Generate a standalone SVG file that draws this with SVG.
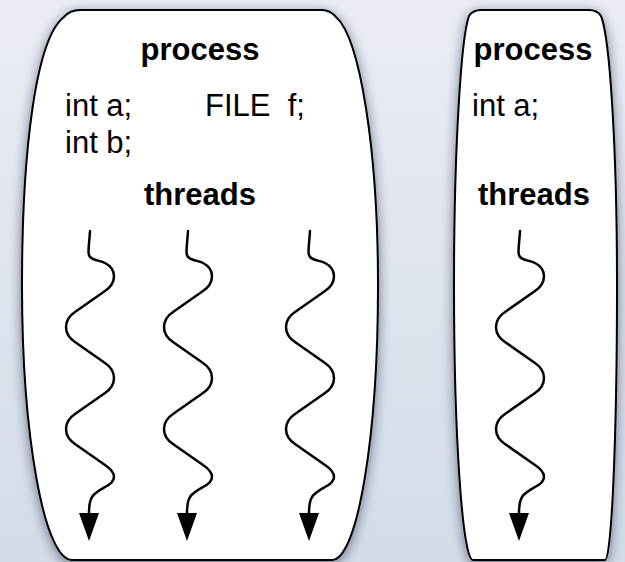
<svg xmlns="http://www.w3.org/2000/svg" xmlns:xlink="http://www.w3.org/1999/xlink" width="625" height="562" viewBox="0 0 625 562">
  <defs>
    <linearGradient id="bg" x1="0" y1="0" x2="0" y2="1">
      <stop offset="0" stop-color="#eaedf3"/>
      <stop offset="1" stop-color="#d4dce8"/>
    </linearGradient>
    <filter id="shadow" x="-20%" y="-10%" width="140%" height="120%">
      <feGaussianBlur in="SourceAlpha" stdDeviation="6"/>
      <feOffset dx="0" dy="3" result="blur"/>
      <feFlood flood-color="#1e2840" flood-opacity="0.6"/>
      <feComposite in2="blur" operator="in"/>
      <feMerge>
        <feMergeNode/>
        <feMergeNode in="SourceGraphic"/>
      </feMerge>
    </filter>
    <marker id="arrow" markerUnits="userSpaceOnUse" viewBox="0 -10 28 20" refX="0" refY="0" markerWidth="28" markerHeight="20" orient="auto">
      <path d="M0,-10 L28,0 L0,10 Z" fill="#000"/>
    </marker>
    <!-- one wavy thread line, centred on x = 0 -->
    <path id="thread" d="M0,231 C-1,249 -4,257 3,259 C8,261 11,261 15,263 C27,269 27,283 15,291 L-15,312 C-27,320 -27,334 -15,342 L15,363 C27,371 27,385 15,393 L-15,414 C-27,422 -27,436 -15,444 L15,465 C27,473 27,481 15,487 C3,494 -1,496 -1,513"/>
  </defs>
  <style>
    .proc { fill: #fff; stroke: #000; stroke-width: 2; filter: url(#shadow); }
    .bold { font-family: "Liberation Sans", Arial, Helvetica, sans-serif; font-weight: bold; font-size: 31px; fill: #000; }
    .reg { font-family: "Liberation Sans", Arial, Helvetica, sans-serif; font-size: 31px; fill: #000; white-space: pre; }
    .thr { fill: none; stroke: #000; stroke-width: 2.5; stroke-linecap: round; marker-end: url(#arrow); }
  </style>

  <rect x="0" y="0" width="625" height="562" fill="url(#bg)"/>

  <!-- multi-threaded process: barrel outline, small top corners, elliptical lower sides -->
  <g id="process-multi">
    <path class="proc" d="M80,10 H322 Q330,10 336,17 C360,38 378,150 378,285 A46,275 0 0 1 332,560 H72 A50,275 0 0 1 22,285 C22,150 36,38 64,17 Q70,10 80,10 Z"/>
    <text class="bold" x="200" y="60" text-anchor="middle">process</text>
    <text class="reg" x="65" y="116">int a;</text>
    <text class="reg" x="205" y="116" xml:space="preserve">FILE  f;</text>
    <text class="reg" x="65" y="153">int b;</text>
    <text class="bold" x="200" y="205" text-anchor="middle">threads</text>
  </g>

  <!-- single-threaded process -->
  <g id="process-single">
    <path class="proc" d="M481,10 H589 Q597,10 601,16 C610,38 617,150 617,285 A12,275 0 0 1 605,560 H473 A19,275 0 0 1 454,285 C454,150 461,38 469,16 Q473,10 481,10 Z"/>
    <text class="bold" x="533" y="60" text-anchor="middle">process</text>
    <text class="reg" x="472" y="116">int a;</text>
    <text class="bold" x="534" y="205" text-anchor="middle">threads</text>
  </g>

  <!-- thread lines -->
  <g id="connectors">
    <use class="thr" xlink:href="#thread" x="90"/>
    <use class="thr" xlink:href="#thread" x="188"/>
    <use class="thr" xlink:href="#thread" x="310"/>
    <use class="thr" xlink:href="#thread" x="520"/>
  </g>
</svg>
